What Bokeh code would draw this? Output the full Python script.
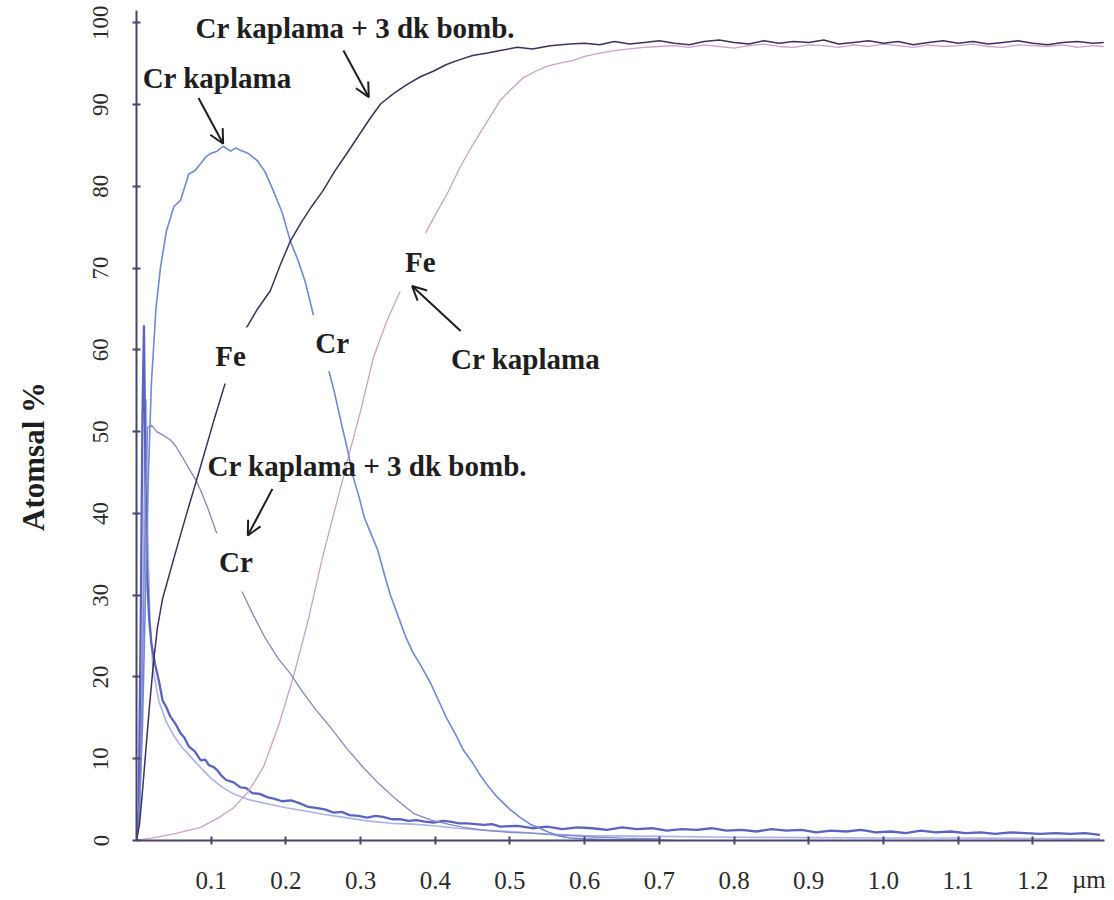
import math
from bokeh.plotting import figure
from bokeh.models import (Range1d, FixedTicker, PrintfTickFormatter, Label, Arrow, OpenHead,
                          LinearAxis)
from bokeh.embed import file_html
from bokeh.resources import INLINE

# ---------------- data ----------------
x_ticks = [0.1, 0.2, 0.3, 0.4, 0.5, 0.6, 0.7, 0.8, 0.9, 1.0, 1.1, 1.2]
y_ticks = [0, 10, 20, 30, 40, 50, 60, 70, 80, 90, 100]
unit_text = "\u00b5m"
unit_at = 1.275

# Cr kaplama : Cr
cr1_x = [0.0, 0.004, 0.008, 0.012, 0.016, 0.02, 0.026, 0.032, 0.04, 0.05, 0.059, 0.07, 0.078, 0.086,
         0.093, 0.099, 0.108, 0.116, 0.126, 0.133, 0.139, 0.15, 0.162, 0.172, 0.183, 0.195, 0.206,
         0.216, 0.226, 0.237, 0.247, 0.256, 0.265, 0.273, 0.282, 0.29, 0.298, 0.305, 0.314, 0.323,
         0.332, 0.34, 0.35, 0.36, 0.37, 0.38, 0.394, 0.405, 0.415, 0.427, 0.438, 0.45, 0.46, 0.472,
         0.483, 0.5, 0.514, 0.527, 0.54, 0.552, 0.564, 0.58, 0.6, 0.63, 0.66, 0.7, 0.72]
cr1_y = [0.0, 4.0, 14.0, 30.0, 45.0, 56.0, 65.0, 70.0, 74.5, 77.5, 78.3, 81.5, 81.9, 82.8,
         83.6, 84.0, 84.3, 84.9, 84.3, 84.7, 84.4, 84.0, 83.1, 81.8, 79.5, 76.8, 73.3,
         71.0, 68.3, 64.2, 61.0, 58.0, 54.8, 51.5, 48.0, 44.5, 42.0, 39.5, 37.5, 35.5,
         32.5, 30.0, 27.5, 25.0, 23.0, 21.5, 19.2, 17.0, 15.0, 13.0, 11.0, 9.5, 8.0, 6.5,
         5.3, 3.8, 2.8, 2.0, 1.5, 1.0, 0.6, 0.3, 0.2, 0.1, 0.1, 0.05, 0.0]

# Cr kaplama + 3 dk bomb. : Fe
fe2_x = [0.0, 0.004, 0.008, 0.012, 0.017, 0.023, 0.028, 0.035, 0.05, 0.065, 0.085, 0.105, 0.12, 0.133,
         0.146, 0.162, 0.179, 0.193, 0.206, 0.22, 0.235, 0.25, 0.265, 0.28, 0.296, 0.312, 0.327,
         0.345, 0.363, 0.38, 0.398, 0.415, 0.43, 0.45, 0.47, 0.487, 0.51, 0.53, 0.554, 0.58,
         0.6, 0.62, 0.64, 0.66, 0.68, 0.7, 0.72, 0.74, 0.76, 0.78, 0.8, 0.82, 0.84, 0.86, 0.88,
         0.9, 0.92, 0.94, 0.96, 0.98, 1.0, 1.02, 1.04, 1.06, 1.08, 1.1, 1.12, 1.14, 1.16, 1.18,
         1.2, 1.22, 1.24, 1.26, 1.28, 1.295]
fe2_y = [0.0, 2.0, 6.0, 10.5, 16.0, 22.0, 26.0, 29.6, 34.5, 39.3, 45.5, 51.8, 56.3, 59.5,
         62.5, 65.0, 67.2, 70.5, 73.3, 75.5, 77.6, 79.5, 81.8, 83.8, 86.0, 88.2, 90.1,
         91.4, 92.5, 93.4, 94.1, 94.9, 95.4, 96.0, 96.3, 96.6, 97.0, 96.8, 97.2, 97.4,
         97.5, 97.3, 97.7, 97.4, 97.6, 97.8, 97.5, 97.3, 97.7, 97.9, 97.6, 97.4, 97.8, 97.5, 97.7,
         97.6, 97.9, 97.4, 97.6, 97.8, 97.5, 97.7, 97.3, 97.6, 97.8, 97.5, 97.7, 97.4, 97.6, 97.8,
         97.5, 97.3, 97.6, 97.7, 97.5, 97.6]

# Cr kaplama : Fe
fe1_x = [0.0, 0.02, 0.05, 0.086, 0.11, 0.13, 0.15, 0.17, 0.19, 0.21, 0.23, 0.25, 0.27, 0.286,
         0.3, 0.317, 0.335, 0.357, 0.372, 0.387, 0.4, 0.416, 0.433, 0.451, 0.47, 0.487, 0.503,
         0.518, 0.535, 0.55, 0.568, 0.585, 0.6, 0.62, 0.64, 0.66, 0.68, 0.7,
         0.72, 0.74, 0.76, 0.78, 0.8, 0.82, 0.84, 0.86, 0.88, 0.9, 0.92, 0.94, 0.96, 0.98, 1.0,
         1.02, 1.04, 1.06, 1.08, 1.1, 1.12, 1.14, 1.16, 1.18, 1.2, 1.22, 1.24, 1.26, 1.28, 1.295]
fe1_y = [0.0, 0.3, 0.8, 1.6, 2.8, 4.0, 6.0, 9.0, 14.0, 20.0, 27.0, 35.0, 42.0, 47.7,
         52.5, 59.0, 63.5, 68.0, 71.2, 74.3, 76.5, 79.1, 82.3, 85.2, 88.0, 90.5, 92.0,
         93.3, 94.1, 94.7, 95.1, 95.4, 95.9, 96.3, 96.6, 96.8, 97.0, 97.1,
         97.2, 97.0, 97.3, 97.1, 96.9, 97.2, 97.4, 97.1, 97.0, 97.3, 97.2, 97.0, 97.3, 97.1, 97.4,
         97.2, 97.0, 97.3, 97.1, 97.2, 97.4, 97.1, 97.0, 97.3, 97.2, 97.1, 97.3, 97.0, 97.2, 97.1]

# Cr kaplama + 3 dk bomb. : Cr
cr2_x = [0.0, 0.005, 0.009, 0.012, 0.015, 0.02, 0.027, 0.035, 0.045, 0.052, 0.062, 0.072, 0.08,
         0.086, 0.096, 0.106, 0.12, 0.139, 0.155, 0.172, 0.19, 0.206, 0.222, 0.24, 0.26, 0.282,
         0.304, 0.325, 0.348, 0.371, 0.395, 0.417, 0.438, 0.47, 0.5, 0.527, 0.56, 0.6, 0.617,
         0.65, 0.7]
cr2_y = [0.0, 6.0, 25.0, 42.0, 50.5, 50.8, 50.0, 49.6, 49.0, 48.3, 46.8, 45.2, 44.0,
         42.8, 40.5, 37.9, 34.8, 30.9, 27.8, 24.8, 22.2, 20.4, 18.2, 16.0, 13.8, 11.2,
         8.9, 6.9, 5.0, 3.3, 2.5, 2.0, 1.6, 1.2, 1.0, 0.9, 0.7, 0.5, 0.4, 0.3, 0.2]

# surface species, sample with bombardment (dark blue)
s2_x = [0.0, 0.003, 0.006, 0.008, 0.01, 0.012, 0.014, 0.017, 0.02, 0.025, 0.03, 0.035, 0.04,
        0.045, 0.052, 0.059, 0.064, 0.07, 0.078, 0.086, 0.092, 0.097, 0.103, 0.108, 0.114, 0.12,
        0.13, 0.139, 0.147, 0.155, 0.165, 0.175, 0.185, 0.195, 0.207, 0.22, 0.23, 0.24, 0.252,
        0.264, 0.275, 0.285, 0.297, 0.309, 0.32, 0.33, 0.342, 0.353, 0.364, 0.375, 0.386, 0.398,
        0.41, 0.42, 0.432, 0.443, 0.454, 0.465, 0.476, 0.487,
        0.51, 0.53, 0.55, 0.57, 0.59, 0.61, 0.63, 0.65, 0.67, 0.69, 0.71, 0.73, 0.75, 0.77,
        0.79, 0.81, 0.83, 0.85, 0.87, 0.89, 0.91, 0.93, 0.95, 0.97, 0.99, 1.01, 1.03, 1.05,
        1.07, 1.09, 1.11, 1.13, 1.15, 1.17, 1.19, 1.21, 1.23, 1.25, 1.27, 1.29]
s2_y = [0.0, 4.0, 30.0, 52.0, 63.0, 45.0, 33.0, 27.0, 24.0, 21.5, 19.5, 17.1, 16.3,
        15.2, 14.3, 13.1, 12.6, 11.5, 10.9, 9.8, 9.9, 9.2, 9.0, 8.6, 7.9, 7.4,
        7.1, 6.5, 6.4, 5.8, 5.7, 5.3, 5.1, 4.8, 4.9, 4.5, 4.1, 4.0, 3.8,
        3.4, 3.5, 3.1, 3.0, 2.8, 3.0, 2.9, 2.6, 2.6, 2.4, 2.5, 2.3, 2.2,
        2.4, 2.3, 2.1, 2.1, 2.0, 1.9, 2.0, 1.7,
        1.8, 1.5, 1.7, 1.4, 1.6, 1.5, 1.3, 1.6, 1.4, 1.5, 1.2, 1.4, 1.3, 1.5,
        1.2, 1.3, 1.1, 1.4, 1.2, 1.3, 1.0, 1.2, 1.1, 1.3, 1.0, 1.1, 0.9, 1.2,
        1.0, 1.1, 0.9, 1.0, 0.8, 1.0, 0.9, 0.8, 0.9, 0.8, 0.9, 0.7]

# surface species, coated sample (light blue)
s1_x = [0.0, 0.004, 0.008, 0.011, 0.013, 0.015, 0.018, 0.022, 0.03, 0.04, 0.05, 0.06, 0.073,
        0.086, 0.1, 0.115, 0.13, 0.15, 0.175, 0.2, 0.22, 0.25, 0.28, 0.309, 0.34, 0.37, 0.398,
        0.43, 0.46, 0.5, 0.55, 0.6, 0.7, 0.8, 0.9, 1.0, 1.1, 1.2, 1.29]
s1_y = [0.0, 3.0, 25.0, 48.0, 54.0, 38.0, 27.0, 21.0, 17.0, 14.5, 12.8, 11.5, 10.2,
        8.9, 7.6, 6.5, 5.7, 5.0, 4.5, 4.0, 3.7, 3.2, 2.8, 2.4, 2.1, 2.0, 1.8,
        1.5, 1.3, 1.1, 0.8, 0.6, 0.5, 0.4, 0.35, 0.3, 0.3, 0.25, 0.2]

# ---------------- figure ----------------
AX = "#4a4470"
TXT = "#1e1e1e"
LBL = "#2a2a2a"
SERIF = "Liberation Serif"

p = figure(width=1110, height=900, output_backend="svg", toolbar_location=None,
           x_range=Range1d(0, 1.296), y_range=Range1d(0, 101.5),
           min_border_left=136, min_border_right=6, min_border_top=10, min_border_bottom=60)
p.grid.visible = False
p.outline_line_color = None
p.background_fill_color = "white"
p.border_fill_color = "white"

for ax in (p.xaxis[0], p.yaxis[0]):
    ax.axis_line_color = AX
    ax.axis_line_width = 2
    ax.major_tick_line_color = AX
    ax.major_tick_line_width = 2
    ax.major_tick_in = 4
    ax.major_tick_out = 4
    ax.minor_tick_line_color = None
    ax.major_label_text_font = SERIF
    ax.major_label_text_color = LBL

# bottom axis: line, tick marks and tick labels
xa = p.xaxis[0]
xa.ticker = FixedTicker(ticks=x_ticks)
xa.formatter = PrintfTickFormatter(format="%.1f")
xa.major_label_text_font_size = "25px"
xa.major_label_standoff = 27

# unit label, drawn by a second (line-less, tick-less) axis pulled up to the same row
xu = LinearAxis(ticker=FixedTicker(ticks=[unit_at]),
                major_label_overrides={unit_at: unit_text},
                axis_line_color=None, major_tick_line_color=None, minor_tick_line_color=None,
                major_tick_in=0, major_tick_out=0, major_label_standoff=-26,
                major_label_text_font=SERIF, major_label_text_font_size="25px",
                major_label_text_color=LBL)
p.add_layout(xu, "below")

p.yaxis.ticker = FixedTicker(ticks=y_ticks)
p.yaxis.major_label_orientation = "vertical"
p.yaxis.major_label_text_font_size = "23px"
p.yaxis.major_label_standoff = 24
p.yaxis.axis_label = "Atomsal %" + "\u00a0" * 8
p.yaxis.axis_label_text_font = SERIF
p.yaxis.axis_label_text_font_style = "bold"
p.yaxis.axis_label_text_font_size = "31px"
p.yaxis.axis_label_text_color = TXT
p.yaxis.axis_label_standoff = 40

# curves
p.line(s1_x, s1_y, line_color="#aab2ea", line_width=1.6)
p.line(s2_x, s2_y, line_color="#5a64c0", line_width=2.3)
p.line(fe1_x, fe1_y, line_color="#c9a2c8", line_width=1.3)
p.line(cr2_x, cr2_y, line_color="#8686c4", line_width=1.3)
p.line(cr1_x, cr1_y, line_color="#6f88d8", line_width=1.6)
p.line(fe2_x, fe2_y, line_color="#3e3160", line_width=1.5)


def note(text, x, y, pad=None):
    lab = Label(x=x, y=y, text=text, text_font=SERIF, text_font_style="bold",
                text_font_size="29px", text_align="center", text_baseline="middle",
                text_color=TXT)
    if pad is not None:
        lab.background_fill_color = "white"
        lab.padding = pad
    p.add_layout(lab)


def arrow(x0, y0, x1, y1):
    p.add_layout(Arrow(end=OpenHead(size=14, line_width=2, line_color=TXT),
                       x_start=x0, y_start=y0, x_end=x1, y_end=y1,
                       line_width=2, line_color=TXT))


note("Cr kaplama + 3 dk bomb.", 0.293, 99.4)
note("Cr kaplama", 0.108, 93.3)
note("Fe", 0.126, 59.3, pad=12)
note("Cr", 0.262, 60.8, pad=12)
note("Fe", 0.38, 70.7, pad=13)
note("Cr kaplama", 0.521, 58.9)
note("Cr kaplama + 3 dk bomb.", 0.309, 45.8)
note("Cr", 0.133, 34.0, pad=13)

arrow(0.083, 90.8, 0.116, 85.2)
arrow(0.277, 96.6, 0.311, 90.9)
arrow(0.434, 62.3, 0.369, 67.8)
arrow(0.182, 43.0, 0.149, 37.3)

open("out.html", "w").write(file_html(p, INLINE))
